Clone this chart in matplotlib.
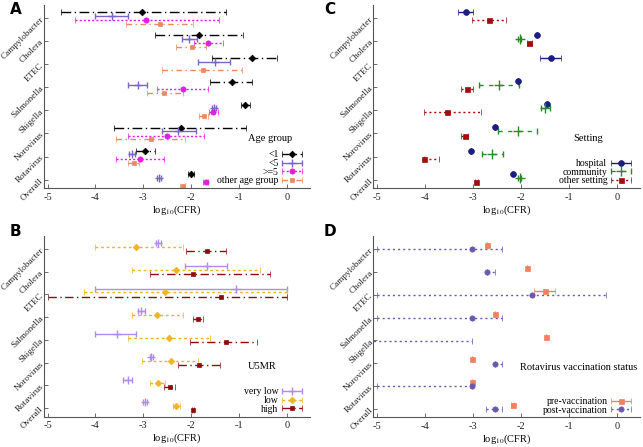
import numpy as np
import matplotlib
matplotlib.use("Agg")
import matplotlib.pyplot as plt
from matplotlib.container import ErrorbarContainer
from matplotlib.legend_handler import HandlerErrorbar

plt.rcParams["font.family"] = ["Liberation Serif", "DejaVu Serif"]
plt.rcParams["mathtext.fontset"] = "stix"
plt.rcParams["axes.unicode_minus"] = False

nan = np.nan
pathogens = ["Campylobacter", "Cholera", "ETEC", "Salmonella",
             "Shigella", "Norovirus", "Rotavirus", "Overall"]

# A: age group
age_lt1_mid = [-3.03, -1.83, -0.74, -1.15, -0.87, -2.21, -2.96, -2.00]
age_lt1_lo = [-4.72, -2.75, -1.56, -1.60, -0.96, -3.61, -3.15, -2.06]
age_lt1_hi = [-1.27, -0.92, -0.20, -0.73, -0.78, -0.85, -2.75, -1.95]
age_lt5_mid = [-3.66, -2.04, -1.51, -3.12, -1.52, -2.27, -3.24, -2.68]
age_lt5_lo = [-4.01, -2.19, -1.85, -3.33, -1.57, -2.62, -3.29, -2.72]
age_lt5_hi = [-3.31, -1.88, -1.19, -2.93, -1.48, -1.90, -3.17, -2.64]
age_ge5_mid = [-2.94, -1.64, nan, -2.18, -1.55, -2.51, -3.07, -1.70]
age_ge5_lo = [-4.42, -1.95, nan, -2.71, -1.62, -3.31, -3.57, -1.76]
age_ge5_hi = [-1.42, -1.33, nan, -1.65, -1.43, -1.74, -2.56, -1.65]
age_oth_mid = [-2.66, -1.99, -1.76, -2.57, -1.74, -2.84, -3.20, -2.18]
age_oth_lo = [-3.36, -2.31, -2.61, -2.92, -1.84, -3.57, -3.32, -2.24]
age_oth_hi = [-1.97, -1.69, -0.94, -2.18, -1.65, -2.12, -3.08, -2.13]

# B: U5MR
u5_vlow_mid = [-2.69, -1.67, -1.06, -3.05, -3.55, -2.83, -3.33, -2.97]
u5_vlow_lo = [-2.74, -2.12, -4.01, -3.12, -4.01, -2.87, -3.42, -3.01]
u5_vlow_hi = [-2.64, -1.25, 0.00, -2.96, -3.16, -2.79, -3.24, -2.93]
u5_low_mid = [-3.16, -2.32, -2.54, -2.71, -2.47, -2.43, -2.69, -2.31]
u5_low_lo = [-4.01, -3.23, -4.24, -3.23, -3.32, -3.02, -2.87, -2.38]
u5_low_hi = [-2.18, -0.56, 0.00, -2.18, -1.61, -1.86, -2.54, -2.24]
u5_high_mid = [-1.68, -1.97, -1.38, -1.86, -1.28, -1.84, -2.45, -1.97]
u5_high_lo = [-2.11, -2.87, -5.00, -1.97, -2.02, -2.27, -2.57, -1.99]
u5_high_hi = [-1.27, -0.35, 0.00, -1.75, -0.63, -1.40, -2.33, -1.95]

# C: setting
set_hosp_mid = [-3.15, -1.66, -1.38, -2.05, -1.45, -2.53, -3.04, -2.17]
set_hosp_lo = [-3.31, -1.66, -1.60, -2.05, -1.45, -2.53, -3.04, -2.17]
set_hosp_hi = [-2.99, -1.66, -1.17, -2.05, -1.45, -2.53, -3.04, -2.17]
set_comm_mid = [nan, -2.02, nan, -2.46, -1.49, -2.05, -2.60, -2.02]
set_comm_lo = [nan, -2.05, nan, -2.87, -1.57, -2.47, -2.81, -2.05]
set_comm_hi = [nan, -1.99, nan, -2.04, -1.39, -1.66, -2.38, -1.99]
set_oth_mid = [-2.66, -1.82, nan, -3.11, -3.53, -3.16, -4.01, -2.93]
set_oth_lo = [-3.01, -1.88, nan, -3.24, -4.02, -3.24, -4.01, -2.96]
set_oth_hi = [-2.30, -1.77, nan, -2.99, -2.83, -3.10, -3.70, -2.90]

# D: rotavirus vaccination
vac_pre_mid = [-2.71, -1.87, -1.50, -2.54, -1.48, -3.02, -3.02, -2.17]
vac_pre_lo = [-2.71, -1.87, -1.72, -2.54, -1.48, -3.02, -3.02, -2.20]
vac_pre_hi = [-2.71, -1.87, -1.29, -2.54, -1.48, -3.02, -3.02, -2.14]
vac_post_mid = [-3.02, -2.71, -1.77, -3.02, -5.50, -2.54, -3.02, -2.54]
vac_post_lo = [-5.00, -2.71, -5.00, -5.00, -5.50, -2.54, -5.00, -2.73]
vac_post_hi = [-2.39, -2.53, -0.23, -2.39, -3.02, -2.39, -3.02, -2.39]

LW = 1.0


def draw_series(ax, mid, lo, hi, off, color, marker, ls, label, ms=3.8):
    mid, lo, hi = np.array(mid), np.array(lo), np.array(hi)
    ok = ~np.isnan(mid)
    y = np.arange(len(mid))[ok] + off
    err = [mid[ok] - lo[ok], hi[ok] - mid[ok]]
    mew = 1.0 if marker == "+" else 0.5
    eb = ax.errorbar(mid[ok], y, xerr=err, fmt=marker, color=color, ms=ms,
                     mew=mew, elinewidth=LW, capsize=2.2, capthick=LW,
                     label=label, clip_on=True)
    eb[2][0].set_linestyle(ls)
    return eb


def style_axes(ax, title, legend_xy, title_xy, hl=2.0):
    ax.set_xlim(-5.08, 0.48)
    ax.set_ylim(7.37, -0.57)
    ax.set_xticks([-5, -4, -3, -2, -1, 0])
    ax.set_yticks(range(len(pathogens)))
    ax.set_yticklabels(pathogens, rotation=45, ha="right", va="center",
                       rotation_mode="anchor")
    for s in ["top", "right"]:
        ax.spines[s].set_visible(False)
    for s in ["left", "bottom"]:
        ax.spines[s].set_color("#555555")
        ax.spines[s].set_linewidth(0.8)
    ax.tick_params(direction="in", length=3, width=0.6, labelsize=7.5,
                   colors="#555555", labelcolor="#222222")
    ax.tick_params(axis="y", pad=1, labelsize=6.6)
    ax.set_xlabel(r"log$_{10}$(CFR)", fontsize=7.5, labelpad=1)
    handles, labels = ax.get_legend_handles_labels()
    ax.legend(handles, labels, loc="lower right", bbox_to_anchor=legend_xy,
              frameon=False, markerfirst=False, fontsize=7,
              handlelength=hl, handletextpad=0.4, labelspacing=-0.03,
              borderpad=0, borderaxespad=0,
              handler_map={ErrorbarContainer: HandlerErrorbar(xerr_size=hl / 2)})
    ax.text(title_xy[0], title_xy[1], title, transform=ax.transAxes,
            ha="center", va="center", fontsize=7.5)


fig = plt.figure(figsize=(6.43, 4.47), dpi=100)
axA = fig.add_axes([0.068, 0.579, 0.414, 0.41])
axB = fig.add_axes([0.068, 0.068, 0.414, 0.404])
axC = fig.add_axes([0.580, 0.579, 0.415, 0.41])
axD = fig.add_axes([0.580, 0.066, 0.415, 0.406])

offs4 = [-0.25, -0.09, 0.09, 0.26]
draw_series(axA, age_lt1_mid, age_lt1_lo, age_lt1_hi, offs4[0], "#000000", "D", (0, (7, 2.5, 1, 2.5)), "<1", 3.4)
draw_series(axA, age_lt5_mid, age_lt5_lo, age_lt5_hi, offs4[1], "#7a66c4", "+", "-", "<5", 6)
draw_series(axA, age_ge5_mid, age_ge5_lo, age_ge5_hi, offs4[2], "#e01ee0", "o", (0, (1.5, 1.5)), ">=5", 3.8)
draw_series(axA, age_oth_mid, age_oth_lo, age_oth_hi, offs4[3], "#ee8862", "s", (0, (4, 2.5, 1, 2.5)), "other age group", 3.4)
style_axes(axA, "Age group", (0.97, 0.015), (0.85, 0.273))

offs3 = [-0.26, -0.09, 0.09]
draw_series(axB, u5_vlow_mid, u5_vlow_lo, u5_vlow_hi, offs3[0], "#b08cf0", "+", "-", "very low", 6)
draw_series(axB, u5_low_mid, u5_low_lo, u5_low_hi, offs3[1], "#f0b428", "D", (0, (2, 2)), "low", 3.4)
draw_series(axB, u5_high_mid, u5_high_lo, u5_high_hi, offs3[2], "#8c0c0c", "s", (0, (6, 2.5, 1, 2.5)), "high", 3.4)
style_axes(axB, "U5MR", (0.97, 0.015), (0.82, 0.28))

draw_series(axC, set_hosp_mid, set_hosp_lo, set_hosp_hi, offs3[0], "#1c1c82", "o", "-", "hospital", 4.2)
draw_series(axC, set_comm_mid, set_comm_lo, set_comm_hi, offs3[1], "#2a8a2a", "+", (0, (3, 4)), "community", 6.5)
draw_series(axC, set_oth_mid, set_oth_lo, set_oth_hi, offs3[2], "#9c1010", "s", (0, (1.5, 2)), "other setting", 3.6)
style_axes(axC, "Setting", (0.966, 0.015), (0.805, 0.273))

offs2 = [-0.17, 0.01]
draw_series(axD, vac_pre_mid, vac_pre_lo, vac_pre_hi, offs2[0], "#f08060", "s", "-", "pre-vaccination", 3.6)
draw_series(axD, vac_post_mid, vac_post_lo, vac_post_hi, offs2[1], "#6a58b0", "o", (0, (1.5, 2.2)), "post-vaccination", 3.8)
style_axes(axD, "Rotavirus vaccination status", (0.966, 0.015), (0.77, 0.273))

for lab, x, y in [("A", 10, 9), ("B", 10, 231), ("C", 324, 9), ("D", 324, 231)]:
    fig.text(x / 643, 1 - y / 447, lab, ha="left", va="center",
             fontsize=11, fontweight="bold", family="DejaVu Sans")

fig.savefig("out.png", dpi=100)
